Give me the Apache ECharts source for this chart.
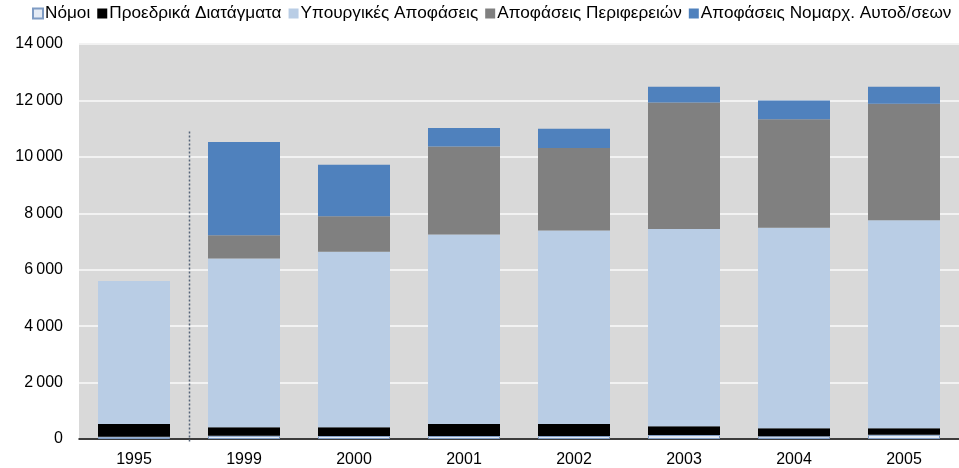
<!DOCTYPE html>
<html>
<head>
<meta charset="utf-8">
<script src="https://cdn.jsdelivr.net/npm/echarts@6/dist/echarts.min.js"></script>
<style>
html, body { margin: 0; padding: 0; background: #fff; }
#chart { width: 959px; height: 468px; }
</style>
</head>
<body>
<div id="chart"></div>
<script>
// categories
var years = ['1995', '1999', '2000', '2001', '2002', '2003', '2004', '2005'];

// series values
var nomoi = [80, 115, 110, 105, 105, 140, 95, 150];
var proedrika = [450, 300, 305, 425, 425, 310, 285, 230];
var ypourgikes = [5070, 5983, 6220, 6717, 6858, 6997, 7103, 7373];
var perifereion = [0, 824, 1259, 3122, 2923, 4477, 3853, 4125];
var nomarx = [0, 3302, 1827, 650, 683, 565, 658, 611];

var seriesNames = ['Νόμοι', 'Προεδρικά Διατάγματα', 'Υπουργικές Αποφάσεις', 'Αποφάσεις Περιφερειών', 'Αποφάσεις Νομαρχ. Αυτοδ/σεων'];

// y axis ticks
var yMax = 14000;
var yStep = 2000;

// separator between 1995 and 1999 starts at this value
var separatorTop = 10900;

var chart = echarts.init(document.getElementById('chart'));

function bar(name, data, color, border) {
    return {
        name: name,
        type: 'bar',
        stack: 'total',
        data: data,
        barWidth: 72,
        itemStyle: {
            color: color,
            borderColor: border || color,
            borderWidth: border ? 1 : 0
        }
    };
}

var option = {
    animation: false,
    backgroundColor: '#ffffff',
    textStyle: { fontFamily: 'Liberation Sans, Arial, sans-serif' },
    legend: {
        top: 5,
        left: 32,
        width: 927,
        padding: 0,
        itemWidth: 10,
        itemHeight: 10,
        itemGap: 7,
        icon: 'rect',
        textStyle: { fontSize: 17.2, color: '#000', padding: [0, 0, 0, -3] },
        data: seriesNames
    },
    grid: {
        left: 79,
        right: 0,
        top: 44,
        bottom: 28,
        show: true,
        backgroundColor: '#d9d9d9',
        borderWidth: 0
    },
    xAxis: {
        type: 'category',
        data: years,
        axisTick: { show: false },
        axisLine: { lineStyle: { color: '#000', width: 1.5 } },
        axisLabel: { fontSize: 16, color: '#000', margin: 13 }
    },
    yAxis: {
        type: 'value',
        min: 0,
        max: yMax,
        interval: yStep,
        axisLine: { show: false },
        axisTick: { show: false },
        axisLabel: {
            fontSize: 16,
            color: '#000',
            margin: 16,
            formatter: function (v) {
                return v >= 1000 ? Math.floor(v / 1000) + '\u2009' + String(v % 1000).padStart(3, '0') : String(v);
            }
        },
        splitLine: { lineStyle: { color: '#f2f2f2', width: 2 } }
    },
    series: [
        bar(seriesNames[0], nomoi, '#e4ebf5', '#7f9cc4'),
        bar(seriesNames[1], proedrika, '#000000'),
        bar(seriesNames[2], ypourgikes, '#b9cde5'),
        bar(seriesNames[3], perifereion, '#808080'),
        bar(seriesNames[4], nomarx, '#4f81bd')
    ]
};

chart.setOption(option);

// dashed separator between 1995 and the later years
var x0 = chart.convertToPixel({ xAxisIndex: 0 }, years[0]);
var x1 = chart.convertToPixel({ xAxisIndex: 0 }, years[1]);
var sx = Math.round((x0 + x1) / 2) + 0.5;
var yTop = chart.convertToPixel({ yAxisIndex: 0 }, separatorTop);
var yBot = chart.convertToPixel({ yAxisIndex: 0 }, 0) + 4;
chart.setOption({
    graphic: [{
        type: 'line',
        shape: { x1: sx, y1: yTop, x2: sx, y2: yBot },
        style: { stroke: '#56657a', lineWidth: 1.5, lineDash: [2, 2] },
        z: 10
    }]
});
</script>
</body>
</html>
